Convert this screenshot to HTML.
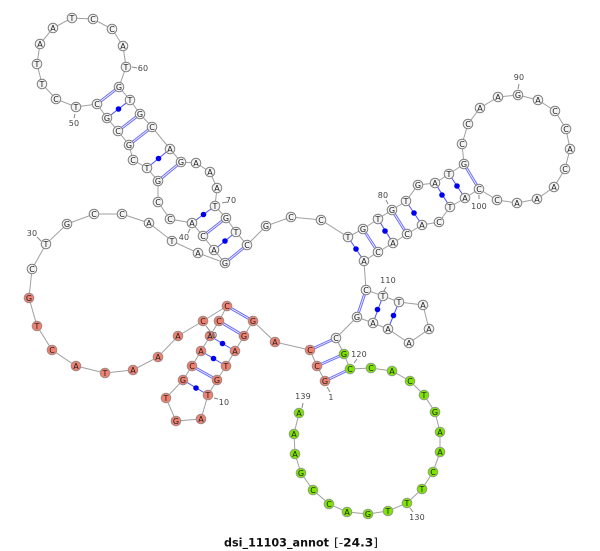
<!DOCTYPE html>
<html><head><meta charset="utf-8"><style>
html,body{margin:0;padding:0;background:#fff}
svg{display:block}
.b{fill:none;stroke:#a0a0a0;stroke-width:1}
.s{stroke:#4f4fff;stroke-width:1}
.d1{stroke:#6a6aff;stroke-width:2.8}
.d2{stroke:#f4f4ff;stroke-width:.9}
.dot{fill:#0000f0}
.w circle{fill:#f3f3f3;stroke:#808080;stroke-width:1}
.r circle{fill:#f08070;stroke:#a08a88;stroke-width:1}
.g circle{fill:#7fe500;stroke:#90a080;stroke-width:1}
.n text{font:8px "DejaVu Sans",sans-serif;text-anchor:middle;fill:#222}
.t{stroke:#888;stroke-width:1}
.l text{font:8px "DejaVu Sans",sans-serif;text-anchor:middle;fill:#444;letter-spacing:.2px}
.title{font:bold 11.5px "DejaVu Sans",sans-serif;fill:#111}
.thin{font-weight:normal}
</style></head><body>
<svg width="600" height="551" viewBox="0 0 600 551" xmlns="http://www.w3.org/2000/svg">
<polyline class="b" points="325,381 317,366 310,350 275,342 253,321 244,336 235,351 226,366 217,380 208,395 201,419 176,421 166,398 183,380 192,366 201,351 210,336 219,321 227,306 203,321 178,336 158,357 133,370 105,373 76,366 52,350 37,326 29,298 32,269 46,244 67,224 94,214 122,214 149,223 172,241 198,253 225,263 214,250 203,236 192,223 170,219 158,202 158,181 147,168 133,160 129,145 118,131 107,118 97,104 76,107 56,99 42,84 37,64 40,44 53,28 72,18 93,19 112,29 123,46 126,67 119,87 130,100 140,114 152,127 170,149 181,162 196,163 210,172 217,188 215,206 226,218 236,232 247,245 266,226 291,217 321,220 348,237 363,229 378,219 392,210 406,201 418,185 435,183 449,174 464,164 462,144 468,124 480,108 498,97 518,95 538,100 555,111 566,129 570,149 565,169 554,187 537,199 517,203 497,200 479,189 465,198 450,207 439,222 422,225 407,234 393,243 378,252 364,261 366,290 383,296 399,302 423,305 429,329 409,343 388,329 373,323 357,317 336,338 344,354 350,369 371,368 392,371 410,381 424,395 435,412 440,432 440,452 433,472 422,489 407,503 388,511 368,514 347,512 329,504 313,490 301,473 295,454 294,434 299,413"/>
<g class="d1">
<line x1="325" y1="381" x2="350" y2="369"/><line x1="317" y1="366" x2="344" y2="354"/><line x1="310" y1="350" x2="336" y2="338"/>
<line x1="253" y1="321" x2="227" y2="306"/><line x1="244" y1="336" x2="219" y2="321"/><line x1="217" y1="380" x2="192" y2="366"/>
<line x1="225" y1="263" x2="247" y2="245"/><line x1="203" y1="236" x2="226" y2="218"/>
<line x1="158" y1="181" x2="181" y2="162"/><line x1="129" y1="145" x2="152" y2="127"/><line x1="118" y1="131" x2="140" y2="114"/><line x1="97" y1="104" x2="119" y2="87"/>
<line x1="363" y1="229" x2="378" y2="252"/><line x1="392" y1="210" x2="407" y2="234"/><line x1="464" y1="164" x2="479" y2="189"/><line x1="366" y1="290" x2="357" y2="317"/>
</g>
<g class="d2">
<line x1="325" y1="381" x2="350" y2="369"/><line x1="317" y1="366" x2="344" y2="354"/><line x1="310" y1="350" x2="336" y2="338"/>
<line x1="253" y1="321" x2="227" y2="306"/><line x1="244" y1="336" x2="219" y2="321"/><line x1="217" y1="380" x2="192" y2="366"/>
<line x1="225" y1="263" x2="247" y2="245"/><line x1="203" y1="236" x2="226" y2="218"/>
<line x1="158" y1="181" x2="181" y2="162"/><line x1="129" y1="145" x2="152" y2="127"/><line x1="118" y1="131" x2="140" y2="114"/><line x1="97" y1="104" x2="119" y2="87"/>
<line x1="363" y1="229" x2="378" y2="252"/><line x1="392" y1="210" x2="407" y2="234"/><line x1="464" y1="164" x2="479" y2="189"/><line x1="366" y1="290" x2="357" y2="317"/>
</g>
<g class="s">
<line x1="235" y1="351" x2="210" y2="336"/><line x1="226" y1="366" x2="201" y2="351"/><line x1="208" y1="395" x2="183" y2="380"/>
<line x1="214" y1="250" x2="236" y2="232"/><line x1="192" y1="223" x2="215" y2="206"/>
<line x1="147" y1="168" x2="170" y2="149"/><line x1="107" y1="118" x2="130" y2="100"/>
<line x1="348" y1="237" x2="364" y2="261"/><line x1="378" y1="219" x2="393" y2="243"/><line x1="406" y1="201" x2="422" y2="225"/><line x1="435" y1="183" x2="450" y2="207"/><line x1="449" y1="174" x2="465" y2="198"/>
<line x1="383" y1="296" x2="373" y2="323"/><line x1="399" y1="302" x2="388" y2="329"/>
</g>
<g class="dot">
<circle cx="222.500" cy="343.500" r="2.800"/><circle cx="213.500" cy="358.500" r="2.800"/><circle cx="196" cy="388" r="2.800"/>
<circle cx="225" cy="241" r="2.800"/><circle cx="203.500" cy="214.500" r="2.800"/>
<circle cx="158.500" cy="158.500" r="2.800"/><circle cx="118.500" cy="109" r="2.800"/>
<circle cx="356" cy="249" r="2.800"/><circle cx="385" cy="231" r="2.800"/><circle cx="414" cy="213" r="2.800"/><circle cx="442" cy="195" r="2.800"/><circle cx="457" cy="186" r="2.800"/>
<circle cx="377.500" cy="309.500" r="2.800"/><circle cx="393.500" cy="315.500" r="2.800"/>
</g>
<g class="n r">
<circle cx="325" cy="381" r="4.800"/><text x="325" y="384">G</text>
<circle cx="317" cy="366" r="4.800"/><text x="317" y="369">C</text>
<circle cx="310" cy="350" r="4.800"/><text x="310" y="353">C</text>
<circle cx="275" cy="342" r="4.800"/><text x="275" y="345">A</text>
<circle cx="253" cy="321" r="4.800"/><text x="253" y="324">G</text>
<circle cx="244" cy="336" r="4.800"/><text x="244" y="339">G</text>
<circle cx="235" cy="351" r="4.800"/><text x="235" y="354">A</text>
<circle cx="226" cy="366" r="4.800"/><text x="226" y="369">T</text>
<circle cx="217" cy="380" r="4.800"/><text x="217" y="383">G</text>
<circle cx="208" cy="395" r="4.800"/><text x="208" y="398">T</text>
<circle cx="201" cy="419" r="4.800"/><text x="201" y="422">A</text>
<circle cx="176" cy="421" r="4.800"/><text x="176" y="424">G</text>
<circle cx="166" cy="398" r="4.800"/><text x="166" y="401">T</text>
<circle cx="183" cy="380" r="4.800"/><text x="183" y="383">G</text>
<circle cx="192" cy="366" r="4.800"/><text x="192" y="369">C</text>
<circle cx="201" cy="351" r="4.800"/><text x="201" y="354">A</text>
<circle cx="210" cy="336" r="4.800"/><text x="210" y="339">A</text>
<circle cx="219" cy="321" r="4.800"/><text x="219" y="324">C</text>
<circle cx="227" cy="306" r="4.800"/><text x="227" y="309">C</text>
<circle cx="203" cy="321" r="4.800"/><text x="203" y="324">C</text>
<circle cx="178" cy="336" r="4.800"/><text x="178" y="339">A</text>
<circle cx="158" cy="357" r="4.800"/><text x="158" y="360">A</text>
<circle cx="133" cy="370" r="4.800"/><text x="133" y="373">A</text>
<circle cx="105" cy="373" r="4.800"/><text x="105" y="376">T</text>
<circle cx="76" cy="366" r="4.800"/><text x="76" y="369">A</text>
<circle cx="52" cy="350" r="4.800"/><text x="52" y="353">C</text>
<circle cx="37" cy="326" r="4.800"/><text x="37" y="329">T</text>
<circle cx="29" cy="298" r="4.800"/><text x="29" y="301">G</text>
</g>
<g class="n w">
<circle cx="32" cy="269" r="4.800"/><text x="32" y="272">C</text>
<circle cx="46" cy="244" r="4.800"/><text x="46" y="247">T</text>
<circle cx="67" cy="224" r="4.800"/><text x="67" y="227">G</text>
<circle cx="94" cy="214" r="4.800"/><text x="94" y="217">C</text>
<circle cx="122" cy="214" r="4.800"/><text x="122" y="217">C</text>
<circle cx="149" cy="223" r="4.800"/><text x="149" y="226">A</text>
<circle cx="172" cy="241" r="4.800"/><text x="172" y="244">T</text>
<circle cx="198" cy="253" r="4.800"/><text x="198" y="256">A</text>
<circle cx="225" cy="263" r="4.800"/><text x="225" y="266">G</text>
<circle cx="214" cy="250" r="4.800"/><text x="214" y="253">A</text>
<circle cx="203" cy="236" r="4.800"/><text x="203" y="239">C</text>
<circle cx="192" cy="223" r="4.800"/><text x="192" y="226">A</text>
<circle cx="170" cy="219" r="4.800"/><text x="170" y="222">C</text>
<circle cx="158" cy="202" r="4.800"/><text x="158" y="205">C</text>
<circle cx="158" cy="181" r="4.800"/><text x="158" y="184">G</text>
<circle cx="147" cy="168" r="4.800"/><text x="147" y="171">T</text>
<circle cx="133" cy="160" r="4.800"/><text x="133" y="163">C</text>
<circle cx="129" cy="145" r="4.800"/><text x="129" y="148">G</text>
<circle cx="118" cy="131" r="4.800"/><text x="118" y="134">C</text>
<circle cx="107" cy="118" r="4.800"/><text x="107" y="121">G</text>
<circle cx="97" cy="104" r="4.800"/><text x="97" y="107">C</text>
<circle cx="76" cy="107" r="4.800"/><text x="76" y="110">T</text>
<circle cx="56" cy="99" r="4.800"/><text x="56" y="102">C</text>
<circle cx="42" cy="84" r="4.800"/><text x="42" y="87">T</text>
<circle cx="37" cy="64" r="4.800"/><text x="37" y="67">T</text>
<circle cx="40" cy="44" r="4.800"/><text x="40" y="47">A</text>
<circle cx="53" cy="28" r="4.800"/><text x="53" y="31">A</text>
<circle cx="72" cy="18" r="4.800"/><text x="72" y="21">T</text>
<circle cx="93" cy="19" r="4.800"/><text x="93" y="22">C</text>
<circle cx="112" cy="29" r="4.800"/><text x="112" y="32">C</text>
<circle cx="123" cy="46" r="4.800"/><text x="123" y="49">A</text>
<circle cx="126" cy="67" r="4.800"/><text x="126" y="70">T</text>
<circle cx="119" cy="87" r="4.800"/><text x="119" y="90">G</text>
<circle cx="130" cy="100" r="4.800"/><text x="130" y="103">T</text>
<circle cx="140" cy="114" r="4.800"/><text x="140" y="117">G</text>
<circle cx="152" cy="127" r="4.800"/><text x="152" y="130">C</text>
<circle cx="170" cy="149" r="4.800"/><text x="170" y="152">A</text>
<circle cx="181" cy="162" r="4.800"/><text x="181" y="165">G</text>
<circle cx="196" cy="163" r="4.800"/><text x="196" y="166">A</text>
<circle cx="210" cy="172" r="4.800"/><text x="210" y="175">A</text>
<circle cx="217" cy="188" r="4.800"/><text x="217" y="191">A</text>
<circle cx="215" cy="206" r="4.800"/><text x="215" y="209">T</text>
<circle cx="226" cy="218" r="4.800"/><text x="226" y="221">G</text>
<circle cx="236" cy="232" r="4.800"/><text x="236" y="235">T</text>
<circle cx="247" cy="245" r="4.800"/><text x="247" y="248">C</text>
<circle cx="266" cy="226" r="4.800"/><text x="266" y="229">G</text>
<circle cx="291" cy="217" r="4.800"/><text x="291" y="220">C</text>
<circle cx="321" cy="220" r="4.800"/><text x="321" y="223">C</text>
<circle cx="348" cy="237" r="4.800"/><text x="348" y="240">T</text>
<circle cx="363" cy="229" r="4.800"/><text x="363" y="232">G</text>
<circle cx="378" cy="219" r="4.800"/><text x="378" y="222">T</text>
<circle cx="392" cy="210" r="4.800"/><text x="392" y="213">G</text>
<circle cx="406" cy="201" r="4.800"/><text x="406" y="204">T</text>
<circle cx="418" cy="185" r="4.800"/><text x="418" y="188">G</text>
<circle cx="435" cy="183" r="4.800"/><text x="435" y="186">A</text>
<circle cx="449" cy="174" r="4.800"/><text x="449" y="177">T</text>
<circle cx="464" cy="164" r="4.800"/><text x="464" y="167">G</text>
<circle cx="462" cy="144" r="4.800"/><text x="462" y="147">C</text>
<circle cx="468" cy="124" r="4.800"/><text x="468" y="127">C</text>
<circle cx="480" cy="108" r="4.800"/><text x="480" y="111">A</text>
<circle cx="498" cy="97" r="4.800"/><text x="498" y="100">A</text>
<circle cx="518" cy="95" r="4.800"/><text x="518" y="98">G</text>
<circle cx="538" cy="100" r="4.800"/><text x="538" y="103">A</text>
<circle cx="555" cy="111" r="4.800"/><text x="555" y="114">C</text>
<circle cx="566" cy="129" r="4.800"/><text x="566" y="132">C</text>
<circle cx="570" cy="149" r="4.800"/><text x="570" y="152">A</text>
<circle cx="565" cy="169" r="4.800"/><text x="565" y="172">C</text>
<circle cx="554" cy="187" r="4.800"/><text x="554" y="190">A</text>
<circle cx="537" cy="199" r="4.800"/><text x="537" y="202">A</text>
<circle cx="517" cy="203" r="4.800"/><text x="517" y="206">A</text>
<circle cx="497" cy="200" r="4.800"/><text x="497" y="203">C</text>
<circle cx="479" cy="189" r="4.800"/><text x="479" y="192">C</text>
<circle cx="465" cy="198" r="4.800"/><text x="465" y="201">A</text>
<circle cx="450" cy="207" r="4.800"/><text x="450" y="210">T</text>
<circle cx="439" cy="222" r="4.800"/><text x="439" y="225">C</text>
<circle cx="422" cy="225" r="4.800"/><text x="422" y="228">A</text>
<circle cx="407" cy="234" r="4.800"/><text x="407" y="237">C</text>
<circle cx="393" cy="243" r="4.800"/><text x="393" y="246">A</text>
<circle cx="378" cy="252" r="4.800"/><text x="378" y="255">C</text>
<circle cx="364" cy="261" r="4.800"/><text x="364" y="264">A</text>
<circle cx="366" cy="290" r="4.800"/><text x="366" y="293">C</text>
<circle cx="383" cy="296" r="4.800"/><text x="383" y="299">T</text>
<circle cx="399" cy="302" r="4.800"/><text x="399" y="305">T</text>
<circle cx="423" cy="305" r="4.800"/><text x="423" y="308">A</text>
<circle cx="429" cy="329" r="4.800"/><text x="429" y="332">A</text>
<circle cx="409" cy="343" r="4.800"/><text x="409" y="346">A</text>
<circle cx="388" cy="329" r="4.800"/><text x="388" y="332">A</text>
<circle cx="373" cy="323" r="4.800"/><text x="373" y="326">A</text>
<circle cx="357" cy="317" r="4.800"/><text x="357" y="320">G</text>
<circle cx="336" cy="338" r="4.800"/><text x="336" y="341">C</text>
</g>
<g class="n g">
<circle cx="344" cy="354" r="4.800"/><text x="344" y="357">G</text>
<circle cx="350" cy="369" r="4.800"/><text x="350" y="372">C</text>
<circle cx="371" cy="368" r="4.800"/><text x="371" y="371">C</text>
<circle cx="392" cy="371" r="4.800"/><text x="392" y="374">A</text>
<circle cx="410" cy="381" r="4.800"/><text x="410" y="384">C</text>
<circle cx="424" cy="395" r="4.800"/><text x="424" y="398">T</text>
<circle cx="435" cy="412" r="4.800"/><text x="435" y="415">G</text>
<circle cx="440" cy="432" r="4.800"/><text x="440" y="435">A</text>
<circle cx="440" cy="452" r="4.800"/><text x="440" y="455">A</text>
<circle cx="433" cy="472" r="4.800"/><text x="433" y="475">C</text>
<circle cx="422" cy="489" r="4.800"/><text x="422" y="492">T</text>
<circle cx="407" cy="503" r="4.800"/><text x="407" y="506">T</text>
<circle cx="388" cy="511" r="4.800"/><text x="388" y="514">T</text>
<circle cx="368" cy="514" r="4.800"/><text x="368" y="517">G</text>
<circle cx="347" cy="512" r="4.800"/><text x="347" y="515">A</text>
<circle cx="329" cy="504" r="4.800"/><text x="329" y="507">C</text>
<circle cx="313" cy="490" r="4.800"/><text x="313" y="493">C</text>
<circle cx="301" cy="473" r="4.800"/><text x="301" y="476">G</text>
<circle cx="295" cy="454" r="4.800"/><text x="295" y="457">A</text>
<circle cx="294" cy="434" r="4.800"/><text x="294" y="437">A</text>
<circle cx="299" cy="413" r="4.800"/><text x="299" y="416">A</text>
</g>
<g class="t">
<line x1="214" y1="398" x2="218" y2="399"/><line x1="206" y1="326" x2="210" y2="331"/><line x1="37" y1="237" x2="41" y2="241"/><line x1="190" y1="229" x2="188" y2="233"/><line x1="75" y1="114" x2="74" y2="118"/><line x1="132" y1="67" x2="137" y2="68"/><line x1="222" y1="203" x2="227" y2="202"/><line x1="386" y1="200" x2="388" y2="204"/><line x1="519" y1="84" x2="518" y2="89"/><line x1="479" y1="195" x2="479" y2="199"/><line x1="386" y1="287" x2="384" y2="291"/><line x1="357" y1="359" x2="354" y2="363"/><line x1="327" y1="387" x2="330" y2="392"/><line x1="410" y1="508" x2="413" y2="512"/><line x1="303" y1="403" x2="302" y2="408"/>
</g>
<g class="l">
<text x="224" y="405">10</text><text x="212" y="338">20</text><text x="32" y="236">30</text><text x="184" y="240">40</text><text x="74" y="126">50</text><text x="143" y="71">60</text><text x="231" y="203">70</text><text x="383" y="198">80</text><text x="519" y="80">90</text><text x="479" y="209">100</text><text x="388" y="283">110</text><text x="359" y="357">120</text><text x="331" y="400">1</text><text x="417" y="520">130</text><text x="303" y="399">139</text>
</g>
<text class="title" x="224" y="546.500" textLength="105" lengthAdjust="spacingAndGlyphs">dsi_11103_annot</text>
<text class="title" x="334" y="546.500" textLength="44" lengthAdjust="spacingAndGlyphs"><tspan class="thin">[-</tspan>24.3<tspan class="thin">]</tspan></text>
</svg>
</body></html>
